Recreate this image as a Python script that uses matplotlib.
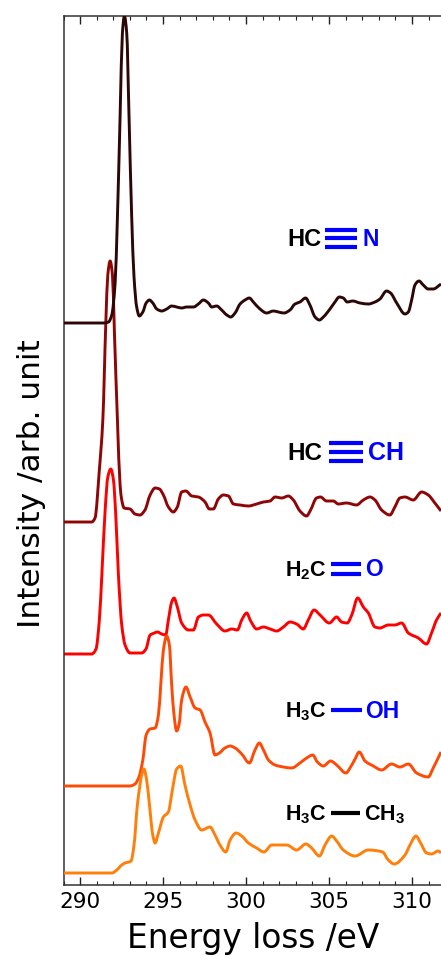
import matplotlib
matplotlib.use('Agg')
import matplotlib.pyplot as plt
from matplotlib.path import Path
from matplotlib.patches import PathPatch
from matplotlib.ticker import MultipleLocator

plt.rcParams['mathtext.fontset'] = 'custom'
plt.rcParams['mathtext.bf'] = 'Liberation Sans:bold'
plt.rcParams['mathtext.rm'] = 'Liberation Sans:bold'
plt.rcParams['mathtext.default'] = 'bf'

hcn_x = [289.0,291.41,291.71,291.91,292.11,292.25,292.41,292.55,292.67,292.81,292.95,293.11,293.25,293.41,293.57,293.78,293.98,294.18,294.38,294.62,294.92,295.22,295.52,295.82,296.12,296.43,296.83,297.13,297.43,297.73,297.93,298.23,298.53,298.84,299.08,299.34,299.64,299.94,300.20,300.44,300.84,301.24,301.65,301.95,302.29,302.65,302.95,303.25,303.59,303.85,304.16,304.42,304.66,305.06,305.36,305.62,305.86,306.10,306.43,306.87,307.37,307.77,308.07,308.47,308.71,309.08,309.58,309.78,309.98,310.18,310.42,310.68,310.98,311.28,311.75]
hcn_y = [562,562,563,570,602,668,768,852,869,852,768,668,608,578,569,573,582,585,582,576,574,576,579,578,577,578,578,581,585,582,578,579,575,570,568,572,581,585,587,583,576,572,574,573,572,575,581,583,587,580,568,565,568,576,583,588,587,583,584,582,581,583,586,594,592,582,571,573,585,600,604,600,596,596,601]

hcch_x = [289.0,290.70,290.90,291.16,291.37,291.55,291.67,291.81,291.95,292.07,292.25,292.41,292.51,292.65,293.01,293.31,293.61,293.91,294.22,294.52,294.78,295.02,295.32,295.62,295.86,296.12,296.37,296.73,297.13,297.53,297.79,298.03,298.33,298.63,298.94,299.24,299.64,300.14,300.64,301.05,301.45,301.75,302.15,302.55,302.85,303.25,303.65,303.89,304.25,304.49,304.85,305.26,305.56,306.06,306.66,307.07,307.47,307.77,308.17,308.67,308.97,309.27,309.58,310.08,310.58,310.98,311.38,311.75]
hcch_y = [363,363,367,415,465,562,610,624,610,552,465,400,385,377,376,371,370,375,390,397,396,390,378,373,378,393,394,389,388,383,376,376,386,390,389,381,380,379,381,383,384,388,387,389,385,374,369,375,387,388,384,384,381,382,380,385,388,385,375,370,378,387,388,385,393,390,382,374]

h2co_x = [289.0,290.70,290.96,291.16,291.31,291.51,291.67,291.85,292.01,292.15,292.31,292.51,292.71,293.01,293.71,293.97,294.22,294.48,294.66,294.92,295.16,295.32,295.52,295.66,295.86,296.12,296.53,296.83,297.13,297.43,297.73,298.23,298.73,299.14,299.48,299.74,300.04,300.28,300.64,301.05,301.45,301.85,302.25,302.65,303.05,303.45,303.75,304.10,304.46,305.02,305.46,305.76,306.10,306.37,306.73,307.07,307.37,307.77,308.07,308.57,308.97,309.38,309.78,310.38,310.88,311.18,311.48,311.75]
h2co_y = [231,231,236,265,310,375,408,416,405,370,310,260,240,232,232,236,250,252,253,251,250,265,283,287,278,262,255,255,268,270,270,261,254,256,255,265,272,264,256,258,256,254,258,263,261,256,265,275,270,262,268,263,262,270,287,278,272,258,257,260,260,262,252,247,241,252,265,272]

ch3oh_x = [289.0,293.01,293.31,293.55,293.78,293.98,294.22,294.52,294.72,294.88,295.02,295.22,295.38,295.52,295.66,295.82,295.96,296.12,296.38,296.63,296.93,297.23,297.53,297.83,298.13,298.39,298.73,299.04,299.34,299.74,300.20,300.54,300.80,301.05,301.35,301.75,302.25,302.75,303.25,303.65,304.02,304.30,304.66,305.10,305.46,306.02,306.30,306.57,306.82,307.17,307.67,308.17,308.77,309.27,309.78,310.28,310.98,311.28,311.75]
ch3oh_y = [99,99,101,108,125,150,156,157,170,205,235,249,240,200,170,154,160,185,198,188,177,175,163,152,130,132,137,139,137,131,122,135,142,135,125,120,118,117,122,127,130,123,119,124,120,112,118,126,133,124,119,115,121,118,121,112,108,117,133]

c2h6_x = [289.0,291.91,292.21,292.51,292.71,293.07,293.25,293.45,293.61,293.71,293.85,294.01,294.18,294.38,294.52,294.72,295.02,295.32,295.56,295.82,296.06,296.32,296.63,296.93,297.33,297.83,298.13,298.43,298.78,299.04,299.40,299.74,300.14,300.64,301.08,301.55,302.45,303.05,303.61,303.95,304.42,304.76,305.16,305.46,305.86,306.57,307.37,308.23,308.57,308.93,309.58,309.88,310.24,310.52,310.88,311.18,311.58,311.75]
c2h6_y = [12,12,15,20,22,24,40,80,100,110,116,105,80,50,42,52,68,73,95,116,119,100,80,65,55,58,50,40,33,45,52,49,42,37,33,40,40,35,41,37,29,40,49,44,35,29,35,33,25,21,30,40,49,42,32,31,34,32]

x_ticks = [290, 295, 300, 305, 310]


def slopes(x, y):
    """Shape-preserving tangents, so the curve stays flat at every read extreme."""
    d = [(y[i + 1] - y[i]) / (x[i + 1] - x[i]) for i in range(len(x) - 1)]
    m = [d[0]]
    for i in range(1, len(x) - 1):
        if d[i - 1] * d[i] <= 0:
            m.append(0.0)
        else:
            h0, h1 = x[i] - x[i - 1], x[i + 1] - x[i]
            w0, w1 = 2 * h1 + h0, h1 + 2 * h0
            m.append((w0 + w1) / (w0 / d[i - 1] + w1 / d[i]))
    m.append(d[-1])
    return m


def curve(ax, x, y, color, lw, zorder):
    """One stroked Bezier segment between each pair of neighbouring read points."""
    m = slopes(x, y)
    verts, codes = [(x[0], y[0])], [Path.MOVETO]
    for i in range(len(x) - 1):
        h = x[i + 1] - x[i]
        verts += [(x[i] + h / 3, y[i] + m[i] * h / 3),
                  (x[i + 1] - h / 3, y[i + 1] - m[i + 1] * h / 3),
                  (x[i + 1], y[i + 1])]
        codes += [Path.CURVE4] * 3
    ax.add_patch(PathPatch(Path(verts, codes), fill=False, edgecolor=color, lw=lw,
                           capstyle='butt', joinstyle='round', zorder=zorder))


fig = plt.figure(figsize=(4.41, 9.57), dpi=100)
ax = fig.add_axes([63.5/441, (957-885)/957, (441-63.5)/441, (885-15.5)/957])

lw = 2.1
curve(ax, h2co_x, h2co_y, '#ff0000', lw, 2)
curve(ax, ch3oh_x, ch3oh_y, '#ff4a05', lw, 3)
curve(ax, c2h6_x, c2h6_y, '#ff7f0a', lw, 4)
curve(ax, hcch_x, hcch_y, '#8f0505', lw, 5)
curve(ax, hcn_x, hcn_y, '#2d0606', lw, 6)

ax.set_xlim(289.0, 311.75)
ax.set_ylim(0, 869.5)
ax.set_yticks([])
ax.xaxis.set_major_locator(MultipleLocator(5))
ax.xaxis.set_minor_locator(MultipleLocator(1))
ax.set_xticks(x_ticks)
ax.tick_params(axis='x', which='major', direction='in', top=True, length=5.5, width=1.0, labelsize=15.5, pad=5, color='#222222')
ax.tick_params(axis='x', which='minor', direction='in', top=True, length=3, width=0.8, color='#222222')
ax.spines['right'].set_visible(False)
for s in ('left', 'top', 'bottom'):
    ax.spines[s].set_linewidth(1.1)
    ax.spines[s].set_color('#333333')

ax.set_xlabel('Energy loss /eV', fontsize=23.6)
ax.xaxis.set_label_coords((253-63.5)/377.5, -(948-885)/869.5, transform=ax.transAxes)
ax.xaxis.label.set_verticalalignment('baseline')
ax.set_ylabel('Intensity /arb. unit', fontsize=22.5)
ax.yaxis.set_label_coords(-(63.5-31)/377.5, (885-484)/869.5)
ax.yaxis.label.set_verticalalignment('center')

BLUE = '#0000ff'


def label(lx, y, ltext, lsize, rx, rtext, rsize, rcolor, bx0, bx1, bond_ys):
    ax.text(lx, y - 7.5, ltext, fontsize=lsize, color='black', ha='left', va='baseline',
            family='Liberation Sans', fontweight='bold', zorder=8)
    ax.text(rx, y - 7.5, rtext, fontsize=rsize, color=rcolor, ha='left', va='baseline',
            family='Liberation Sans', fontweight='bold', zorder=8)
    for by in bond_ys:
        ax.plot([bx0, bx1], [by, by], color=rcolor, lw=3.0, solid_capstyle='butt', zorder=8)


label(302.47, 647, 'HC', 17, 306.99, 'N', 16.5, BLUE, 304.76, 306.69, [655, 647, 638])
label(302.47, 433, 'HC', 17.5, 307.35, 'CH', 18, BLUE, 305.0, 307.05, [442, 433, 424])
label(302.35, 316, r'$\mathbf{H_2C}$', 15.5, 307.17, 'O', 16.5, BLUE, 305.12, 306.93, [321, 311])
label(302.35, 175, r'$\mathbf{H_3C}$', 15.5, 307.17, 'OH', 16.5, BLUE, 305.12, 306.99, [175])
label(302.35, 72, r'$\mathbf{H_3C}$', 15.5, 307.11, r'$\mathbf{CH_3}$', 15.5, 'black', 305.12, 306.87, [72])

fig.savefig('out.png', dpi=100)
